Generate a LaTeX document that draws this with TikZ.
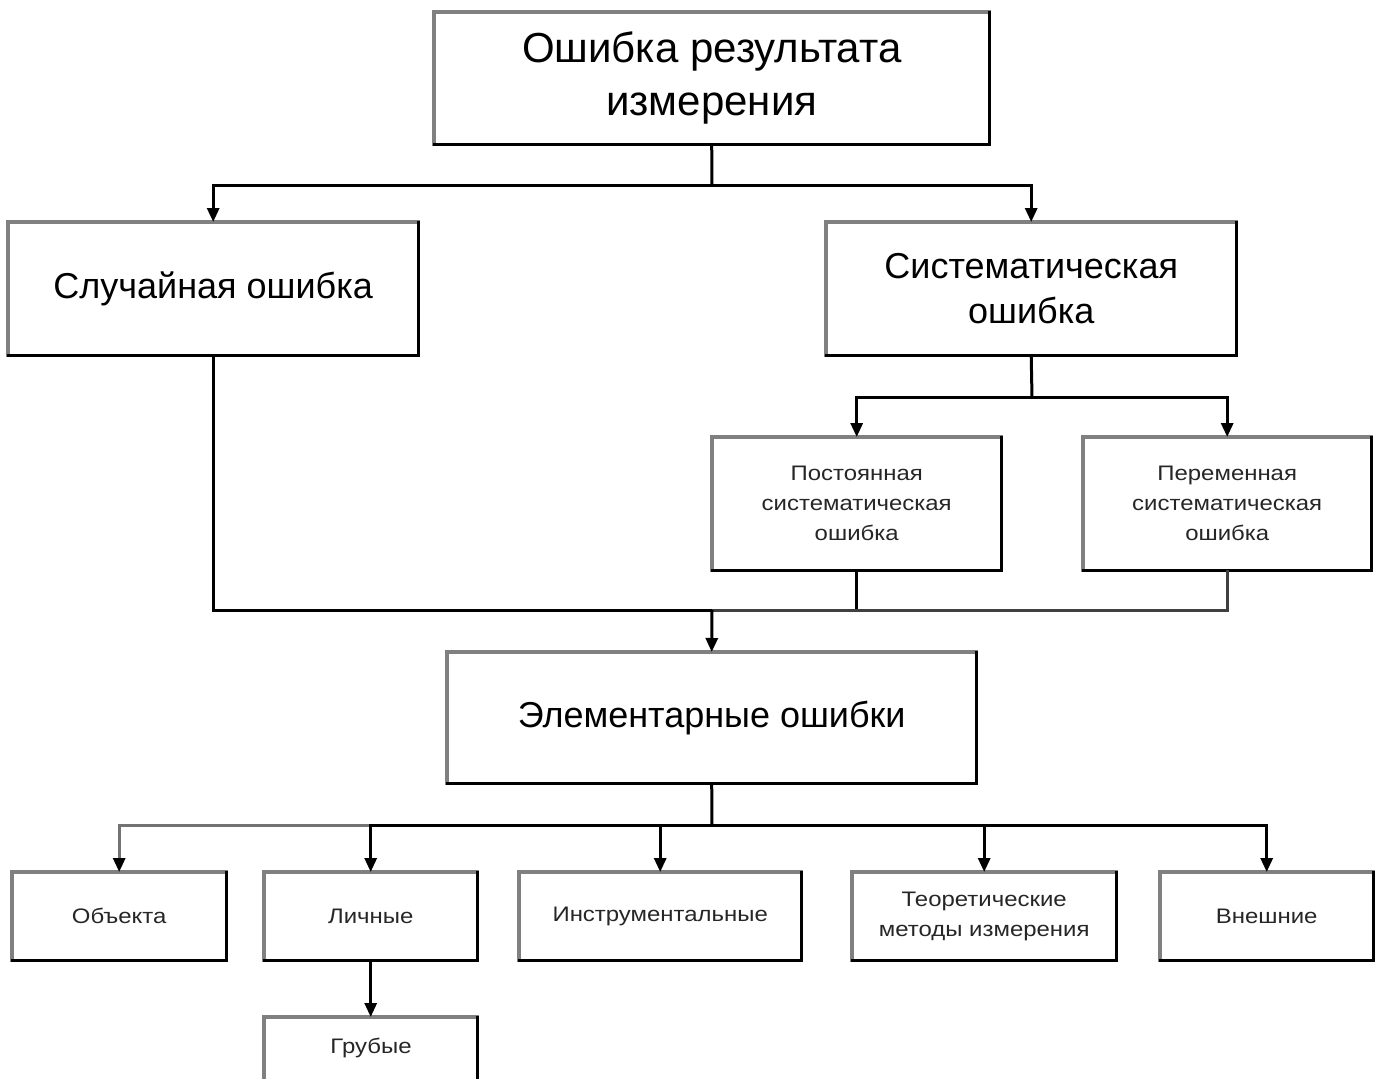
\documentclass[tikz,border=0pt]{standalone}
\usepackage{fontspec}
\setmainfont{Liberation Sans}
\newfontfamily\widefont[FakeStretch=1.14]{Liberation Sans}
\usetikzlibrary{arrows.meta}
\tikzset{
  box/.style={inner sep=0pt, align=center, anchor=north west},
  huge/.style={font=\fontsize{42}{53}\selectfont},
  big/.style={font=\fontsize{36}{45}\selectfont},
  small/.style={font=\widefont\fontsize{21}{30}\selectfont, text=black!85},
  conn/.style={line width=3pt, black},
  arr/.style={conn, -{Triangle[length=14pt,width=12pt,color=black]}},
  edgelt/.style={line width=4pt, color=black!50, line cap=rect},
  edgedk/.style={line width=3pt, black, line cap=rect},
}
\newcommand{\mkbox}[7]{%
  \node[box,#7, minimum width=#4pt-#2pt, minimum height=#5pt-#3pt] (#1) at (#2,#3) {#6};
}
\begin{document}
\begin{tikzpicture}[x=1pt,y=-1pt]
\clip (0,0) rectangle (1379,1079);
\fill[white] (0,0) rectangle (1379,1079);
\mkbox{top}{434}{12}{989}{144}{Ошибка результата\\измерения}{huge}
\mkbox{rand}{8}{222}{418}{355}{Случайная ошибка}{big}
\mkbox{sys}{826}{222}{1236}{355}{Систематическая\\ошибка}{big}
\mkbox{const}{712}{437}{1001}{570}{Постоянная\\систематическая\\ошибка}{small}
\mkbox{var}{1083}{437}{1371}{570}{Переменная\\систематическая\\ошибка}{small}
\mkbox{elem}{447}{652}{976}{783}{Элементарные ошибки}{big}
\mkbox{obj}{12}{872}{226}{960}{Объекта}{small}
\mkbox{pers}{264}{872}{477}{960}{Личные}{small}
\mkbox{instr}{519}{872}{801}{960}{Инструментальные}{small}
\mkbox{theo}{852}{872}{1116}{960}{Теоретические\\методы измерения}{small}
\mkbox{ext}{1160}{872}{1373}{960}{Внешние}{small}
\node[box, minimum width=213pt, minimum height=108pt] (gross) at (264,1017) {};
\node[small] at (371,1048) {Грубые};
\foreach \n in {top,rand,sys,const,var,elem,obj,pers,instr,theo,ext,gross}{
  \draw[edgelt] (\n.south west) -- (\n.north west) -- (\n.north east);
  \draw[edgedk] (\n.north east) -- (\n.south east) -- (\n.south west);
}
% connectors
\coordinate (j1) at (712,185);
\draw[conn] (top.south) -- (j1);
\draw[arr] (j1) -| (rand.north);
\draw[arr] (j1) -| (sys.north);
\coordinate (j2) at (1032,397);
\draw[conn] (sys.south) -- (j2);
\draw[arr] (j2) -| (const.north);
\draw[arr] (j2) -| (var.north);
\coordinate (j3) at (712,610);
\draw[conn] (rand.south) |- (j3);
\draw[conn] (const.south) |- (j3);
\draw[conn, black!75] (var.south) |- (j3);
\draw[arr] (j3) -- (elem.north);
\coordinate (j4) at (712,825);
\draw[conn] (elem.south) -- (j4);
\draw[arr, black!55] (j4) -| (obj.north);
\draw[arr] (j4) -| (pers.north);
\draw[arr] (j4) -| (instr.north);
\draw[arr] (j4) -| (theo.north);
\draw[arr] (j4) -| (ext.north);
\draw[arr] (pers.south) -- (gross.north);
\end{tikzpicture}
\end{document}
